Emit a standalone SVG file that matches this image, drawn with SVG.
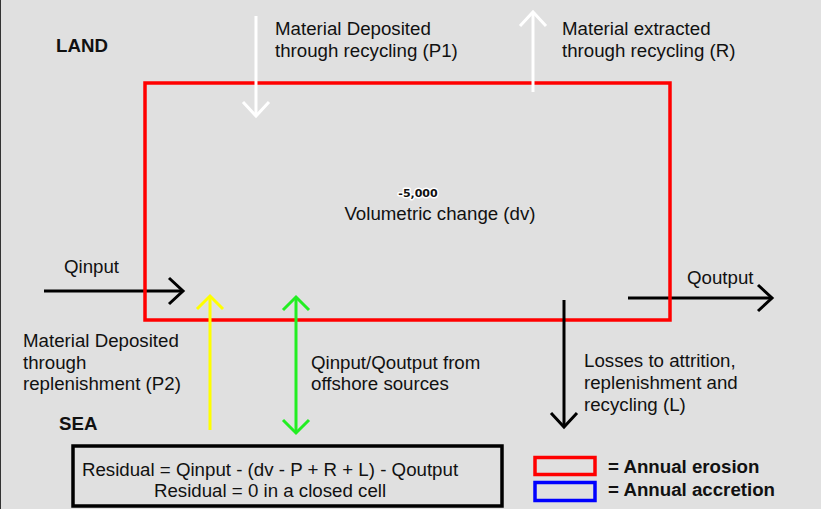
<svg xmlns="http://www.w3.org/2000/svg" width="821" height="509" viewBox="0 0 821 509">
  <style>
    .txt { font-family: "Liberation Sans", Arial, sans-serif; font-size: 18.7px; fill: #111; }
    .bold { font-weight: bold; }
    .flow { fill: none; stroke-width: 3; stroke-linecap: butt; }
    .k { stroke: #000; }
    .w { stroke: #fff; }
    .y { stroke: #ffff00; }
    .g { stroke: #22ee22; }
  </style>
  <defs>
    <marker id="headK" markerUnits="userSpaceOnUse" markerWidth="40" markerHeight="40" viewBox="-20 -20 40 40" refX="0" refY="0" orient="auto" overflow="visible">
      <path d="M-14,-13 L0,0 L-14,13" fill="none" stroke="#000" stroke-width="3"/>
    </marker>
    <marker id="headW" markerUnits="userSpaceOnUse" markerWidth="40" markerHeight="40" viewBox="-20 -20 40 40" refX="0" refY="0" orient="auto" overflow="visible">
      <path d="M-14,-13 L0,0 L-14,13" fill="none" stroke="#fff" stroke-width="3"/>
    </marker>
    <marker id="headY" markerUnits="userSpaceOnUse" markerWidth="40" markerHeight="40" viewBox="-20 -20 40 40" refX="0" refY="0" orient="auto" overflow="visible">
      <path d="M-13,-13 L0,0 L-13,13" fill="none" stroke="#ffff00" stroke-width="3"/>
    </marker>
    <marker id="headG" markerUnits="userSpaceOnUse" markerWidth="40" markerHeight="40" viewBox="-20 -20 40 40" refX="0" refY="0" orient="auto-start-reverse" overflow="visible">
      <path d="M-13,-13 L0,0 L-13,13" fill="none" stroke="#22ee22" stroke-width="3"/>
    </marker>
  </defs>

  <!-- background -->
  <rect x="0" y="0" width="821" height="509" fill="#e0e0e0"/>
  <line x1="0.5" y1="0" x2="0.5" y2="509" stroke="#333" stroke-width="1"/>

  <!-- longshore transport lines pass beneath the cell boundary -->
  <g id="connectors-longshore">
    <line class="flow k" x1="44" y1="291" x2="183" y2="291" marker-end="url(#headK)"/>
    <line class="flow k" x1="628" y1="298" x2="772" y2="298" marker-end="url(#headK)"/>
  </g>

  <!-- littoral cell boundary -->
  <g id="cell">
    <rect x="145" y="83" width="525" height="237" fill="none" stroke="#ff0000" stroke-width="3.5"/>
    <text x="418" y="197" text-anchor="middle" font-family="'DejaVu Sans', Verdana, sans-serif" font-weight="bold" font-size="11" fill="#111" stroke="#fff" stroke-width="3" paint-order="stroke" stroke-linejoin="round">-5,000</text>
    <text class="txt" x="440" y="220" text-anchor="middle">Volumetric change (dv)</text>
  </g>

  <!-- remaining flows -->
  <g id="connectors">
    <line class="flow w" x1="256" y1="16" x2="256" y2="116" marker-end="url(#headW)"/>
    <line class="flow w" x1="533" y1="92" x2="533" y2="12" marker-end="url(#headW)"/>
    <line class="flow y" x1="210" y1="430" x2="210" y2="296" marker-end="url(#headY)"/>
    <line class="flow g" x1="296" y1="297" x2="296" y2="433" marker-start="url(#headG)" marker-end="url(#headG)"/>
    <line class="flow k" x1="564" y1="300" x2="564" y2="427" marker-end="url(#headK)"/>
  </g>

  <g id="label-land"><text class="txt bold" x="56" y="52">LAND</text></g>
  <g id="label-sea"><text class="txt bold" x="59" y="430">SEA</text></g>

  <g id="label-p1">
    <text class="txt" x="275" y="35">Material Deposited</text>
    <text class="txt" x="275" y="57">through recycling (P1)</text>
  </g>
  <g id="label-r">
    <text class="txt" x="562" y="35">Material extracted</text>
    <text class="txt" x="562" y="57">through recycling (R)</text>
  </g>
  <g id="label-qinput"><text class="txt" x="64" y="273">Qinput</text></g>
  <g id="label-qoutput"><text class="txt" x="687" y="284">Qoutput</text></g>
  <g id="label-p2">
    <text class="txt" x="23" y="347">Material Deposited</text>
    <text class="txt" x="23" y="369">through</text>
    <text class="txt" x="23" y="390">replenishment (P2)</text>
  </g>
  <g id="label-offshore">
    <text class="txt" x="311" y="369">Qinput/Qoutput from</text>
    <text class="txt" x="311" y="390">offshore sources</text>
  </g>
  <g id="label-losses">
    <text class="txt" x="584" y="367">Losses to attrition,</text>
    <text class="txt" x="584" y="389">replenishment and</text>
    <text class="txt" x="584" y="411">recycling (L)</text>
  </g>

  <g id="residual">
    <rect x="73" y="446" width="429" height="60" fill="none" stroke="#000" stroke-width="3.5"/>
    <text class="txt" x="270" y="476" text-anchor="middle">Residual = Qinput - (dv - P + R + L) - Qoutput</text>
    <text class="txt" x="270" y="497" text-anchor="middle">Residual = 0 in a closed cell</text>
  </g>

  <g id="legend">
    <rect x="535" y="457.5" width="60" height="17" fill="none" stroke="#ff0000" stroke-width="3.5"/>
    <rect x="535" y="482.5" width="60" height="18" fill="none" stroke="#0000ff" stroke-width="3.5"/>
    <text class="txt bold" x="608" y="473">= Annual erosion</text>
    <text class="txt bold" x="608" y="496">= Annual accretion</text>
  </g>
</svg>
